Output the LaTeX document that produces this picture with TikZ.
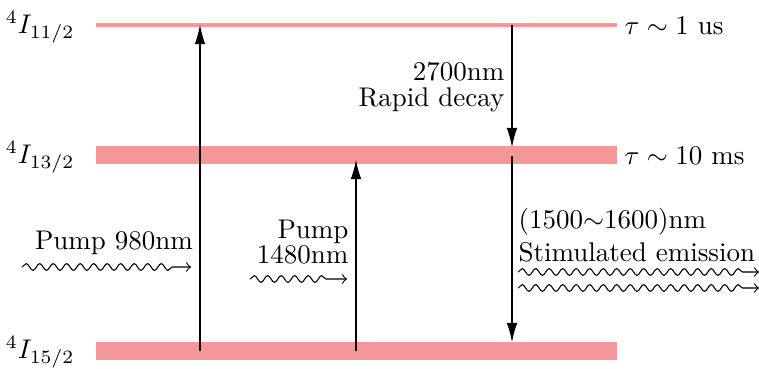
\documentclass[tikz,border=0pt]{standalone}
\usetikzlibrary{arrows.meta,decorations.pathmorphing}
\definecolor{levelc}{RGB}{244,151,153}
\begin{document}
\begin{tikzpicture}[x=0.3704pt,y=-0.3704pt,
  level/.style={draw=levelc,line width=#1},
  trans/.style={line width=0.85pt,-{Latex[length=7.5pt,width=4pt]}},
  photon/.style={thin,-to,decorate,decoration={snake,segment length=5pt,amplitude=1.25pt,post length=6pt}},
  lbl/.style={inner sep=0pt}]
\useasboundingbox (0,0) rectangle (759,369);
% level bars
\coordinate (t1) at (96,25);  \coordinate (t2) at (617,25);
\coordinate (m1) at (96,155); \coordinate (m2) at (617,155);
\coordinate (b1) at (96,351); \coordinate (b2) at (617,351);
\draw[level=1.5pt] (t1) -- (t2);
\draw[level=6.7pt] (m1) -- (m2);
\draw[level=6.7pt] (b1) -- (b2);
% level labels
\node[lbl,anchor=east] (L1) at (75,27) {$^4I_{11/2}$};
\node[lbl,anchor=east] (L2) at (75,157) {$^4I_{13/2}$};
\node[lbl,anchor=east] (L3) at (75,352) {$^4I_{15/2}$};
\node[lbl,anchor=west] (T1) at (624,26) {$\tau\sim1$ us};
\node[lbl,anchor=west] (T2) at (624,156) {$\tau\sim10$ ms};
% transitions
\coordinate (a0) at (200,351); \coordinate (a1) at (200,24);
\coordinate (c0) at (356,351); \coordinate (c1) at (356,159);
\coordinate (d0) at (512,25);  \coordinate (d1) at (512,148);
\coordinate (e0) at (512,156); \coordinate (e1) at (512,343);
\draw[trans] (a0) -- (a1);
\draw[trans] (c0) -- (c1);
\draw[trans] (d0) -- (d1);
\draw[trans] (e0) -- (e1);
% texts
\node[lbl,anchor=base] (P1) at (114,249) {Pump 980nm};
\node[lbl,anchor=base east] (P2a) at (349,238) {Pump};
\node[lbl,anchor=base east] (P2b) at (349,263) {1480nm};
\node[lbl,anchor=base east] (R1) at (505,81) {2700nm};
\node[lbl,anchor=base east] (R2) at (505,106) {Rapid decay};
\node[lbl,anchor=base west] (S1) at (518,228) {(1500$\sim$1600)nm};
\node[lbl,anchor=base west] (S2) at (518,261) {Stimulated emission};
% photons
\coordinate (w1s) at (22,267);  \coordinate (w1e) at (191,267);
\coordinate (w2s) at (250,279); \coordinate (w2e) at (347,279);
\coordinate (w3s) at (518,272); \coordinate (w3e) at (759,272);
\coordinate (w4s) at (518,288); \coordinate (w4e) at (759,288);
\draw[photon] (w1s) -- (w1e);
\draw[photon] (w2s) -- (w2e);
\draw[photon] (w3s) -- (w3e);
\draw[photon] (w4s) -- (w4e);
\end{tikzpicture}
\end{document}
